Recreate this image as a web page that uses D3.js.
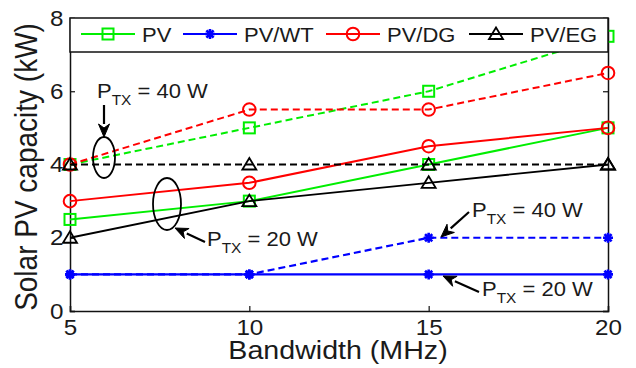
<!DOCTYPE html>
<html>
<head>
<meta charset="utf-8">
<script src="https://cdn.jsdelivr.net/npm/d3@7"></script>
<style>
  html, body { margin: 0; padding: 0; background: #fff; }
  svg { display: block; font-family: Arial, "Liberation Sans", Helvetica, sans-serif; }
</style>
</head>
<body>
<svg id="chart" width="636" height="368"></svg>
<script>
// Bandwidth on the x axis (MHz)
const bandwidth = [5, 10, 15, 20];

// Solar PV capacity (kW), P_TX = 20 W (solid) and P_TX = 40 W (dashed)
const pv20 = [2.5, 3, 4, 5];
const pv40 = [4, 5, 6, 7.5];
const pvwt20 = [1, 1, 1, 1];
const pvwt40 = [1, 1, 2, 2];
const pvdg20 = [3, 3.5, 4.5, 5];
const pvdg40 = [4, 5.5, 5.5, 6.5];
const pveg20 = [2, 3, 3.5, 4];
const pveg40 = [4, 4, 4, 4];

const seriesNames = ["PV", "PV/WT", "PV/DG", "PV/EG"];
const xTicks = [5, 10, 15, 20];
const yTicks = [0, 2, 4, 6, 8];

const svg = d3.select("#chart");
const plotL = 70, plotR = 608, plotT = 18, plotB = 311;
const x = d3.scaleLinear().domain([5, 20]).range([plotL, plotR]);
const y = d3.scaleLinear().domain([0, 8]).range([plotB, plotT]);
const ink = "#1a1a1a";
const sx = 1.1; // horizontal text stretch

const series = [
  { name: seriesNames[0], color: "#00ee00", marker: "square",   w: 2,   v20: pv20,   v40: pv40 },
  { name: seriesNames[1], color: "#0000ff", marker: "asterisk", w: 2.2, v20: pvwt20, v40: pvwt40 },
  { name: seriesNames[2], color: "#ff0000", marker: "circle",   w: 2,   v20: pvdg20, v40: pvdg40 },
  { name: seriesNames[3], color: "#000000", marker: "triangle", w: 1.8, v20: pveg20, v40: pveg40 }
];

function drawMarker(g, type, cx, cy, color) {
  if (type === "square") {
    g.append("rect").attr("x", cx - 5.5).attr("y", cy - 5.5).attr("width", 11).attr("height", 11)
      .attr("fill", "none").attr("stroke", color).attr("stroke-width", 2);
  } else if (type === "circle") {
    g.append("circle").attr("cx", cx).attr("cy", cy).attr("r", 6.3)
      .attr("fill", "none").attr("stroke", color).attr("stroke-width", 2);
  } else if (type === "triangle") {
    g.append("path").attr("d", `M${cx},${cy - 6.5}L${cx + 7},${cy + 5}L${cx - 7},${cy + 5}Z`)
      .attr("fill", "none").attr("stroke", color).attr("stroke-width", 1.8);
  } else {
    const a = 5, b = 3.6;
    g.append("path")
      .attr("d", `M${cx - a},${cy}L${cx + a},${cy}M${cx},${cy - a}L${cx},${cy + a}` +
                 `M${cx - b},${cy - b}L${cx + b},${cy + b}M${cx - b},${cy + b}L${cx + b},${cy - b}`)
      .attr("stroke", color).attr("stroke-width", 2.6).attr("fill", "none");
  }
}

// Axes box with inward ticks
const axisG = svg.append("g");
axisG.append("g").attr("transform", `translate(0,${plotB})`)
  .call(d3.axisBottom(x).tickValues(xTicks).tickSize(-5).tickPadding(8).tickFormat(d3.format("d")));
axisG.append("g").attr("transform", `translate(${plotL},0)`)
  .call(d3.axisLeft(y).tickValues(yTicks).tickSize(-5).tickPadding(6).tickFormat(d3.format("d")));
axisG.append("g").attr("transform", `translate(${plotR},0)`)
  .call(d3.axisRight(y).tickValues(yTicks).tickSize(-5).tickFormat(""));
axisG.selectAll(".domain").attr("stroke", "#111").attr("stroke-width", 1.5);
axisG.selectAll(".tick line").attr("stroke", "#111").attr("stroke-width", 1.2);
axisG.selectAll(".tick text").attr("font-size", 22).attr("fill", ink)
  .attr("font-family", "Arial, 'Liberation Sans', sans-serif")
  .attr("transform", `scale(${sx},1)`);

// Data lines and markers
const lineGen = d3.line().x((d, i) => x(bandwidth[i])).y(d => y(d));
const dataG = svg.append("g");
series.forEach(s => {
  dataG.append("path").datum(s.v20).attr("d", lineGen)
    .attr("fill", "none").attr("stroke", s.color).attr("stroke-width", s.w);
  s.v20.forEach((v, i) => drawMarker(dataG, s.marker, x(bandwidth[i]), y(v), s.color));
});
series.forEach(s => {
  dataG.append("path").datum(s.v40).attr("d", lineGen)
    .attr("fill", "none").attr("stroke", s.color).attr("stroke-width", s.w)
    .attr("stroke-dasharray", "7,4");
  s.v40.forEach((v, i) => drawMarker(dataG, s.marker, x(bandwidth[i]), y(v), s.color));
});

// Legend across the top of the axes
const legG = svg.append("g");
legG.append("rect").attr("x", plotL).attr("y", plotT).attr("width", plotR - plotL).attr("height", 34)
  .attr("fill", "#fff").attr("stroke", "#111").attr("stroke-width", 1.5);
const legX = [81, 183, 326, 469];
const legY = 34;
series.forEach((s, i) => {
  const x0 = legX[i];
  legG.append("line").attr("x1", x0).attr("x2", x0 + 54).attr("y1", legY).attr("y2", legY)
    .attr("stroke", s.color).attr("stroke-width", s.w);
  drawMarker(legG, s.marker, x0 + 27, legY, s.color);
  legG.append("text").attr("transform", `translate(${x0 + 61},${legY + 7.5}) scale(${sx},1)`)
    .attr("font-size", 20).attr("fill", ink).text(s.name);
});

// Annotations: ellipses, arrows and P_TX labels
const annG = svg.append("g");
function ellipse(cx, cy, rx, ry) {
  annG.append("ellipse").attr("cx", cx).attr("cy", cy).attr("rx", rx).attr("ry", ry)
    .attr("fill", "none").attr("stroke", "#000").attr("stroke-width", 1.8);
}
function arrow(x1, y1, x2, y2) {
  const ang = Math.atan2(y2 - y1, x2 - x1), L = 13, H = 5.5;
  const bx = x2 - L * Math.cos(ang), by = y2 - L * Math.sin(ang);
  annG.append("line").attr("x1", x1).attr("y1", y1).attr("x2", bx).attr("y2", by)
    .attr("stroke", "#000").attr("stroke-width", 2.2);
  const px = -Math.sin(ang) * H, py = Math.cos(ang) * H;
  annG.append("path")
    .attr("d", `M${x2},${y2}L${bx + px},${by + py}L${x2 - 9 * Math.cos(ang)},${y2 - 9 * Math.sin(ang)}L${bx - px},${by - py}Z`)
    .attr("fill", "#000").attr("stroke", "#000").attr("stroke-width", 1);
}
function ptx(px, py, watts) {
  const t = annG.append("text").attr("transform", `translate(${px},${py}) scale(${sx},1)`)
    .attr("font-size", 20).attr("fill", ink);
  t.append("tspan").text("P");
  t.append("tspan").attr("font-size", 14).attr("dy", 7).text("TX");
  t.append("tspan").attr("dy", -7).text(` = ${watts} W`);
}

ellipse(104, 157.5, 11, 20.5);
arrow(104, 105, 104, 137);
ptx(97, 98, 40);

ellipse(167, 204, 14, 26);
arrow(205, 242, 175, 228);
ptx(207, 246, 20);

arrow(469, 212, 441, 237);
ptx(472, 217, 40);

arrow(479, 292, 443, 276);
ptx(482, 296, 20);

// Axis titles
svg.append("text").attr("transform", `translate(338,359) scale(${sx},1)`)
  .attr("text-anchor", "middle").attr("font-size", 26).attr("fill", ink).text("Bandwidth (MHz)");
svg.append("text").attr("transform", `translate(37,167) rotate(-90) scale(1,${sx})`)
  .attr("text-anchor", "middle").attr("font-size", 28).attr("fill", ink).text("Solar PV capacity (kW)");
</script>
</body>
</html>
